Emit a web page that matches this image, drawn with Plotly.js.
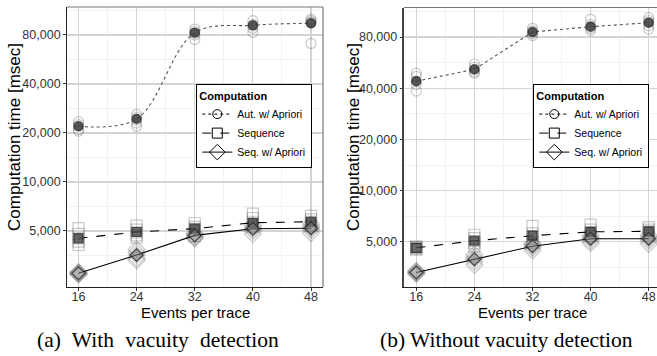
<!DOCTYPE html>
<html>
<head>
<meta charset="utf-8">
<script src="https://cdn.plot.ly/plotly-3.0.1.min.js"></script>
<style>html,body{margin:0;padding:0;background:#fff;}#chart{width:657px;height:356px;}</style>
</head>
<body>
<div id="chart"></div>
<script>
// ---------- data ----------
const eventsPerTrace = [16, 24, 32, 40, 48];
const seriesNames = ["Aut. w/ Apriori", "Sequence", "Seq. w/ Apriori"];
const yTickVals = [5000, 10000, 20000, 40000, 80000];
const yTickText = ["5,000", "10,000", "20,000", "40,000", "80,000"];
const yMinorVals = [3536, 7071, 14142, 28284, 56569, 113137];
const xMinorVals = [20, 28, 36, 44];

// (a) With vacuity detection: individual runs per x, and mean
const withAutRuns = [[23500,22500,22000,21000,20500],[26000,25000,24000,23000,22000],[87000,84000,82000,80000,75000],[98000,93000,91000,88000,83000],[100000,98000,96000,95000,71000]];
const withAutMean = [22000, 24400, 82600, 91800, 94400];
const withSeqRuns = [[5200,4800,4500,4300,4100],[5400,5100,4900,4700,4550],[5600,5300,5150,5000,4650],[6400,6000,5700,5500,5300],[6200,5900,5700,5500,5350]];
const withSeqMean = [4510, 4930, 5170, 5620, 5700];
const withSeqARuns = [[2800,2770,2750,2720,2700],[3850,3700,3560,3400,3300],[4850,4750,4650,4550,4500],[5400,5250,5150,5000,4800],[5500,5300,5200,5050,4850]];
const withSeqAMean = [2750, 3560, 4700, 5160, 5200];

// (b) Without vacuity detection
const withoutAutRuns = [[49000,47000,44000,42000,38500],[55500,53000,51500,50000,49000],[90000,87000,85500,83500,81500],[102000,95000,92000,90000,87500],[104000,100000,97000,93000,89000]];
const withoutAutMean = [44000, 51600, 85600, 92000, 97100];
const withoutSeqRuns = [[4700,4650,4600,4550,4500],[5500,5250,5050,4900,4700],[6200,5600,5400,5200,4950],[6300,5900,5700,5550,5400],[6100,5900,5750,5600,5450]];
const withoutSeqMean = [4610, 5070, 5430, 5720, 5760];
const withoutSeqARuns = [[3380,3330,3300,3270,3230],[4200,4050,3950,3800,3650],[4900,4800,4700,4600,4450],[5450,5300,5200,5050,4900],[5450,5300,5200,5050,4850]];
const withoutSeqAMean = [3300, 3950, 4710, 5210, 5210];

// ---------- styling ----------
const symbols = ["circle", "square", "diamond"];
const runSizes = [10, 11, 13];
const meanSizes = [9, 9, 10];
const meanFill = ["rgba(60,60,60,0.85)", "rgba(70,70,70,0.8)", "rgba(120,120,120,0.55)"];
const dashes = ["dot", "dash", "solid"];
const lineColors = ["#555555", "#000000", "#000000"];
const sans = "Liberation Sans, Arial, sans-serif";
const serif = "Liberation Serif, Times New Roman, serif";

function flatten(runs) {
  const xs = [], ys = [];
  runs.forEach((r, i) => r.forEach(v => { xs.push(eventsPerTrace[i]); ys.push(v); }));
  return {xs, ys};
}

const traces = [];
function addPanel(panelRuns, panelMeans, xa, ya, legendId, splineFirst) {
  panelRuns.forEach((runs, k) => {
    const f = flatten(runs);
    traces.push({
      type: "scatter", mode: "markers", x: f.xs, y: f.ys, xaxis: xa, yaxis: ya,
      showlegend: false, hoverinfo: "skip",
      marker: {symbol: symbols[k] + "-open", size: runSizes[k], color: "rgba(90,90,90,0.32)", line: {width: 1.2}}
    });
  });
  panelMeans.forEach((m, k) => {
    traces.push({
      type: "scatter", mode: "lines", x: eventsPerTrace, y: m, xaxis: xa, yaxis: ya,
      showlegend: false,
      line: {color: lineColors[k], width: 1.1, dash: dashes[k], shape: (splineFirst && k === 0) ? "spline" : "linear"}
    });
    traces.push({
      type: "scatter", mode: "markers", x: eventsPerTrace, y: m, xaxis: xa, yaxis: ya,
      showlegend: false,
      marker: {symbol: symbols[k], size: meanSizes[k], color: meanFill[k], line: {color: "rgba(40,40,40,0.8)", width: 1.2}}
    });
  });
  seriesNames.forEach((name, k) => {
    traces.push({
      type: "scatter", mode: "lines+markers", x: [null], y: [null], xaxis: xa, yaxis: ya,
      name: name, legend: legendId, showlegend: true,
      line: {color: "#000", width: 1, dash: dashes[k]},
      marker: {symbol: symbols[k] + "-open", size: runSizes[k] - 1, color: "#000", line: {width: 1}}
    });
  });
}
addPanel([withAutRuns, withSeqRuns, withSeqARuns], [withAutMean, withSeqMean, withSeqAMean], "x", "y", "legend", true);
addPanel([withoutAutRuns, withoutSeqRuns, withoutSeqARuns], [withoutAutMean, withoutSeqMean, withoutSeqAMean], "x2", "y2", "legend2", false);

const W = 657, H = 356;
function xAxis(domain, range) {
  return {
    domain: domain, range: range, tickmode: "array", tickvals: eventsPerTrace,
    showgrid: true, gridcolor: "#d4d4d4", gridwidth: 1.1, zeroline: false,
    showline: true, linecolor: "#222", linewidth: 1.4,
    ticks: "outside", ticklen: 2.5, tickcolor: "#333", tickwidth: 1, ticklabelstandoff: -5,
    tickfont: {family: sans, size: 12.5, color: "#333"},
    minor: {tickmode: "array", tickvals: xMinorVals, showgrid: true, gridcolor: "#efefef", gridwidth: 0.8, ticks: ""}
  };
}
function yAxis(domain, range, anchor) {
  return {
    domain: domain, type: "log", range: range, anchor: anchor,
    tickmode: "array", tickvals: yTickVals, ticktext: yTickText,
    showgrid: true, gridcolor: "#d4d4d4", gridwidth: 1.1, zeroline: false,
    showline: true, linecolor: "#222", linewidth: 1.4,
    ticks: "outside", ticklen: 2.5, tickcolor: "#333", tickwidth: 1,
    tickfont: {family: sans, size: 12.5, color: "#333"},
    minor: {tickmode: "array", tickvals: yMinorVals, showgrid: true, gridcolor: "#efefef", gridwidth: 0.8, ticks: ""}
  };
}
const legendBase = {
  bgcolor: "#fff", bordercolor: "#000", borderwidth: 1.3,
  font: {family: sans, size: 10.5, color: "#000"},
  title: {text: "<b>Computation</b>", font: {family: sans, size: 11, color: "#000"}},
  xanchor: "right", yanchor: "top", itemwidth: 30, tracegroupgap: 0
};

const layout = {
  width: W, height: H, margin: {l: 0, r: 0, t: 0, b: 0, autoexpand: false},
  paper_bgcolor: "#fff", plot_bgcolor: "#fff", showlegend: true,
  xaxis: xAxis([67 / W, 323 / W], [14.42, 49.65]),
  yaxis: yAxis([1 - 287 / H, 1 - 7 / H], [Math.log10(2264), Math.log10(118870)], "x"),
  xaxis2: Object.assign(xAxis([404 / W, 1], [14.31, 49.14]), {anchor: "y2"}),
  yaxis2: Object.assign(yAxis([1 - 287 / H, 1 - 7.5 / H], [Math.log10(2711), Math.log10(119300)], "x2"), {linecolor: "#444", linewidth: 1.8}),
  legend: Object.assign({}, legendBase, {x: 312 / W, y: 1 - 84 / H}),
  legend2: Object.assign({}, legendBase, {x: 649 / W, y: 1 - 84 / H}),
  shapes: [
    {type: "line", xref: "x domain", yref: "y domain", x0: 0, x1: 1, y0: 1, y1: 1, line: {color: "#777", width: 1}},
    {type: "line", xref: "x domain", yref: "y domain", x0: 1, x1: 1, y0: 0, y1: 1, line: {color: "#777", width: 1.2}},
    {type: "line", xref: "x2 domain", yref: "y2 domain", x0: 0, x1: 1, y0: 1, y1: 1, line: {color: "#777", width: 1}}
  ],
  annotations: [
    {text: "Computation time [msec]", xref: "paper", yref: "paper", x: 14 / W, y: 1 - 137 / H, textangle: -90, showarrow: false, xanchor: "center", yanchor: "middle", font: {family: sans, size: 17, color: "#000"}},
    {text: "Computation time [msec]", xref: "paper", yref: "paper", x: 353 / W, y: 1 - 137 / H, textangle: -90, showarrow: false, xanchor: "center", yanchor: "middle", font: {family: sans, size: 17, color: "#000"}},
    {text: "Events per trace", xref: "paper", yref: "paper", x: 195 / W, y: 1 - 312 / H, showarrow: false, xanchor: "center", yanchor: "middle", font: {family: sans, size: 15, color: "#000"}},
    {text: "Events per trace", xref: "paper", yref: "paper", x: 532 / W, y: 1 - 312 / H, showarrow: false, xanchor: "center", yanchor: "middle", font: {family: sans, size: 15, color: "#000"}},
    {text: "<span style=\"word-spacing:6px\">(a) With vacuity detection</span>", xref: "paper", yref: "paper", x: 158 / W, y: 1 - 340 / H, showarrow: false, xanchor: "center", yanchor: "middle", font: {family: serif, size: 21.5, color: "#000"}},
    {text: "(b) Without vacuity detection", xref: "paper", yref: "paper", x: 506 / W, y: 1 - 340 / H, showarrow: false, xanchor: "center", yanchor: "middle", font: {family: serif, size: 21.5, color: "#000"}}
  ]
};

Plotly.newPlot("chart", traces, layout, {staticPlot: true, displayModeBar: false});
</script>
</body>
</html>
